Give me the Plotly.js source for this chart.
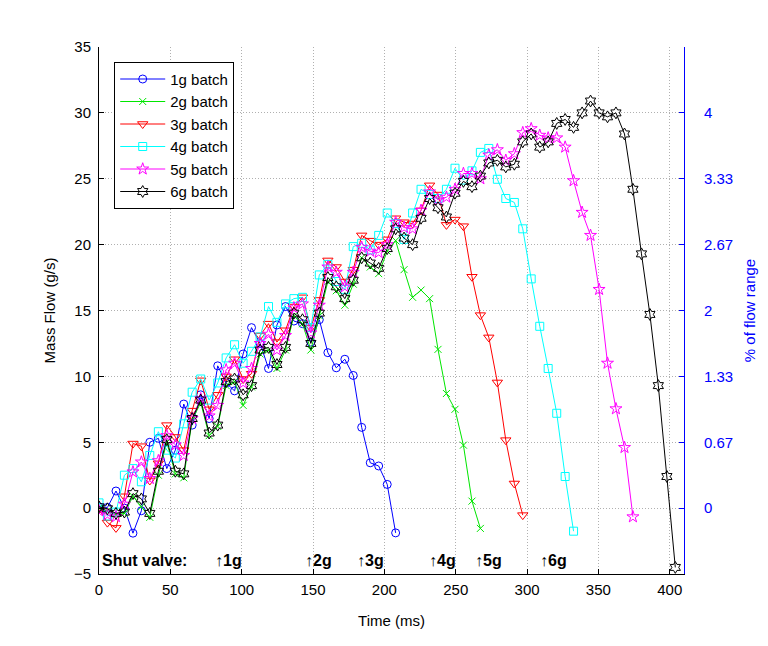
<!DOCTYPE html>
<html>
<head>
<meta charset="utf-8">
<script src="https://cdn.plot.ly/plotly-3.0.1.min.js"></script>
<style>html,body{margin:0;padding:0;background:#fff;}#chart{width:768px;height:646px;}</style>
</head>
<body>
<div id="chart"></div>
<script>
// Sample times (ms)
const timeMs = [0, 5.9, 11.9, 17.8, 23.8, 29.7, 35.6, 41.6, 47.5, 53.5, 59.4, 65.3, 71.3, 77.2, 83.2, 89.1, 95.0, 101.0, 106.9, 112.9, 118.8, 124.7, 130.7, 136.6, 142.6, 148.5, 154.4, 160.4, 166.3, 172.3, 178.2, 184.1, 190.1, 196.0, 202.0, 207.9, 213.8, 219.8, 225.7, 231.7, 237.6, 243.5, 249.5, 255.4, 261.4, 267.3, 273.2, 279.2, 285.1, 291.1, 297.0, 302.9, 308.9, 314.8, 320.8, 326.7, 332.6, 338.6, 344.5, 350.5, 356.4, 362.3, 368.3, 374.2, 380.2, 386.1, 392.0, 398.0, 403.9];

// Mass flow (g/s) per batch
const batch1g = [0.1, 0.05, 1.3, 0.0, -1.9, -0.2, 5.0, 5.3, 3.0, 4.4, 7.9, 6.3, 8.6, 6.8, 10.8, 9.5, 8.9, 11.7, 13.7, 12.5, 10.6, 13.9, 15.3, 14.2, 14.0, 12.6, 14.3, 11.8, 10.65, 11.3, 10.07, 6.13, 3.44, 3.2, 1.8, -1.88];
const batch2g = [0, -0.2, -0.5, -0.4, 0.9, 0.1, -0.7, 2.5, 5.0, 2.6, 2.3, 6.7, 8.0, 5.5, 6.2, 9.3, 9.6, 7.8, 9.2, 11.7, 12.0, 10.6, 12.0, 14.6, 14.0, 12.0, 14.6, 17.2, 16.5, 15.4, 17.0, 19.0, 18.3, 17.8, 19.5, 20.3, 18.1, 16.0, 16.55, 15.9, 12.05, 8.7, 7.5, 4.78, 0.53, -1.54];
const batch3g = [-0.1, -1.1, -1.5, 0.9, 4.9, 4.7, 2.1, 3.4, 6.3, 5.4, 4.4, 7.4, 9.7, 7.5, 8.6, 10.0, 11.3, 9.8, 10.2, 13.1, 14.0, 12.6, 13.5, 15.3, 16.0, 13.7, 15.8, 18.8, 18.3, 17.2, 18.1, 20.7, 20.3, 20.0, 20.4, 22.0, 21.7, 21.6, 22.6, 24.5, 23.8, 21.5, 21.9, 21.4, 17.56, 14.65, 12.96, 9.54, 5.16, 1.87, -0.53];
const batch4g = [0.4, -0.6, -0.3, 2.5, 3.0, 2.0, 4.0, 5.8, 4.4, 3.8, 6.4, 8.8, 9.8, 8.2, 9.5, 11.4, 12.4, 11.0, 11.9, 13.0, 15.3, 14.1, 15.5, 15.9, 16.0, 13.7, 17.7, 18.5, 17.2, 16.6, 19.85, 20.1, 19.6, 20.7, 22.4, 21.6, 20.4, 22.4, 24.2, 23.8, 23.5, 24.2, 25.8, 24.9, 25.6, 27.0, 27.3, 24.96, 23.5, 23.2, 21.2, 17.4, 13.8, 10.6, 7.2, 2.4, -1.75];
const batch5g = [-0.2, -0.5, -0.65, 0.3, 2.75, 3.5, 2.25, 3.6, 5.5, 4.8, 4.0, 6.8, 8.3, 7.0, 7.8, 10.5, 11.0, 9.5, 10.6, 12.5, 13.2, 12.0, 13.1, 15.2, 15.5, 13.3, 15.4, 18.3, 17.9, 16.8, 17.9, 19.8, 19.5, 19.4, 20.0, 21.7, 21.3, 21.2, 22.6, 24.0, 23.4, 23.6, 24.2, 25.4, 25.4, 25.0, 26.8, 27.2, 26.4, 26.9, 28.5, 28.8, 28.3, 28.1, 28.1, 27.4, 24.85, 22.45, 20.7, 16.6, 11.0, 7.54, 4.6, -0.66];
const batch6g = [0.1, -0.05, -0.4, -0.3, 1.1, 0.7, -0.4, 2.8, 5.2, 2.8, 2.6, 6.8, 8.2, 5.7, 6.3, 9.6, 9.8, 8.6, 9.3, 12.0, 12.2, 10.9, 12.2, 14.8, 14.3, 12.5, 14.8, 17.5, 16.8, 15.9, 17.3, 19.0, 18.6, 18.2, 19.7, 21.2, 20.5, 20.0, 22.0, 23.5, 22.8, 22.1, 23.9, 24.8, 24.4, 25.2, 26.2, 26.4, 25.9, 26.1, 27.8, 28.4, 27.4, 27.8, 29.2, 29.5, 28.9, 30.0, 30.9, 30.0, 29.7, 30.0, 28.4, 24.2, 19.3, 14.7, 9.3, 2.4, -4.5];

const seriesNames = ['1g batch', '2g batch', '3g batch', '4g batch', '5g batch', '6g batch'];
const seriesValues = [batch1g, batch2g, batch3g, batch4g, batch5g, batch6g];

// Right-axis ticks (% of flow range)
const pctTickVals = [0, 0.6667, 1.3333, 2, 2.6667, 3.3333, 4];
const pctTickText = ['0', '0.67', '1.33', '2', '2.67', '3.33', '4'];

// Shut-valve markers
const shutLabels = ['\u21911g', '\u21912g', '\u21913g', '\u21914g', '\u21915g', '\u21916g'];
const shutTimes = [80, 143, 179.5, 230, 262, 307.5];

const colors = ['#0000ff', '#00e600', '#ff0000', '#00ffff', '#ff00ff', '#000000'];
const symbols = ['circle-open', 'x-thin-open', 'triangle-down-open', 'square-open', 'star-open', 'hexagram-open'];
const sizes = [8, 7, 9, 8, 9, 9];

const traces = seriesValues.map((vals, i) => ({
  x: timeMs.slice(0, vals.length),
  y: vals,
  name: seriesNames[i],
  type: 'scatter',
  mode: 'lines+markers',
  line: {color: colors[i], width: 1},
  marker: {symbol: symbols[i], size: sizes[i], color: colors[i], line: {color: colors[i], width: 1}},
  xaxis: 'x', yaxis: 'y'
}));
traces.push({x: [0], y: [0], xaxis: 'x', yaxis: 'y2', mode: 'markers', marker: {opacity: 0}, showlegend: false, hoverinfo: 'skip'});

const font = "'Liberation Sans', Arial, sans-serif";
const annotations = [{
  x: 0.5, y: -4, xref: 'x', yref: 'y', text: '<b>Shut valve:</b>', showarrow: false,
  xanchor: 'left', yanchor: 'middle', font: {size: 16, color: '#000', family: font}
}].concat(shutLabels.map((t, i) => ({
  x: shutTimes[i], y: -4, xref: 'x', yref: 'y', text: '<b>' + t + '</b>', showarrow: false,
  xanchor: 'left', yanchor: 'middle', font: {size: 16, color: '#000', family: font}
})));

const layout = {
  width: 768, height: 646,
  margin: {l: 99, r: 84, t: 47, b: 72},
  paper_bgcolor: '#fff', plot_bgcolor: '#fff',
  font: {family: font, size: 15, color: '#000'},
  showlegend: true,
  legend: {x: 0.026, y: 0.972, xanchor: 'left', yanchor: 'top', bgcolor: '#fff', bordercolor: '#000', borderwidth: 1,
           font: {size: 15, family: font}, tracegroupgap: 0, itemwidth: 45},
  xaxis: {
    range: [0, 410], tick0: 0, dtick: 50, ticks: 'inside', ticklen: 5, tickcolor: '#000',
    showline: true, linecolor: '#000', linewidth: 1, mirror: false,
    showgrid: true, gridcolor: '#b0b0b0', griddash: '1px,2px', gridwidth: 1, zeroline: false,
    ticklabelstandoff: 2,
    title: {text: 'Time (ms)', font: {size: 15}, standoff: 18}
  },
  yaxis: {
    range: [-5, 35], tick0: -5, dtick: 5, ticks: 'inside', ticklen: 5, tickcolor: '#000',
    showline: true, linecolor: '#000', linewidth: 1,
    showgrid: true, gridcolor: '#b0b0b0', griddash: '1px,2px', gridwidth: 1, zeroline: false,
    ticklabelstandoff: 4,
    title: {text: 'Mass Flow (g/s)', font: {size: 15}, standoff: 14}
  },
  yaxis2: {
    overlaying: 'y', side: 'right', range: [-0.66667, 4.66667],
    tickmode: 'array', tickvals: pctTickVals, ticktext: pctTickText,
    ticks: 'inside', ticklen: 5, tickcolor: '#0000ff', color: '#0000ff',
    showline: true, linecolor: '#0000ff', linewidth: 1, showgrid: false, zeroline: false,
    ticklabelstandoff: 16,
    tickfont: {color: '#0000ff', size: 15},
    title: {text: '% of flow range', font: {size: 15, color: '#0000ff'}, standoff: 12}
  },
  annotations: annotations
};

Plotly.newPlot('chart', traces, layout, {displayModeBar: false, staticPlot: true});
</script>
</body>
</html>
